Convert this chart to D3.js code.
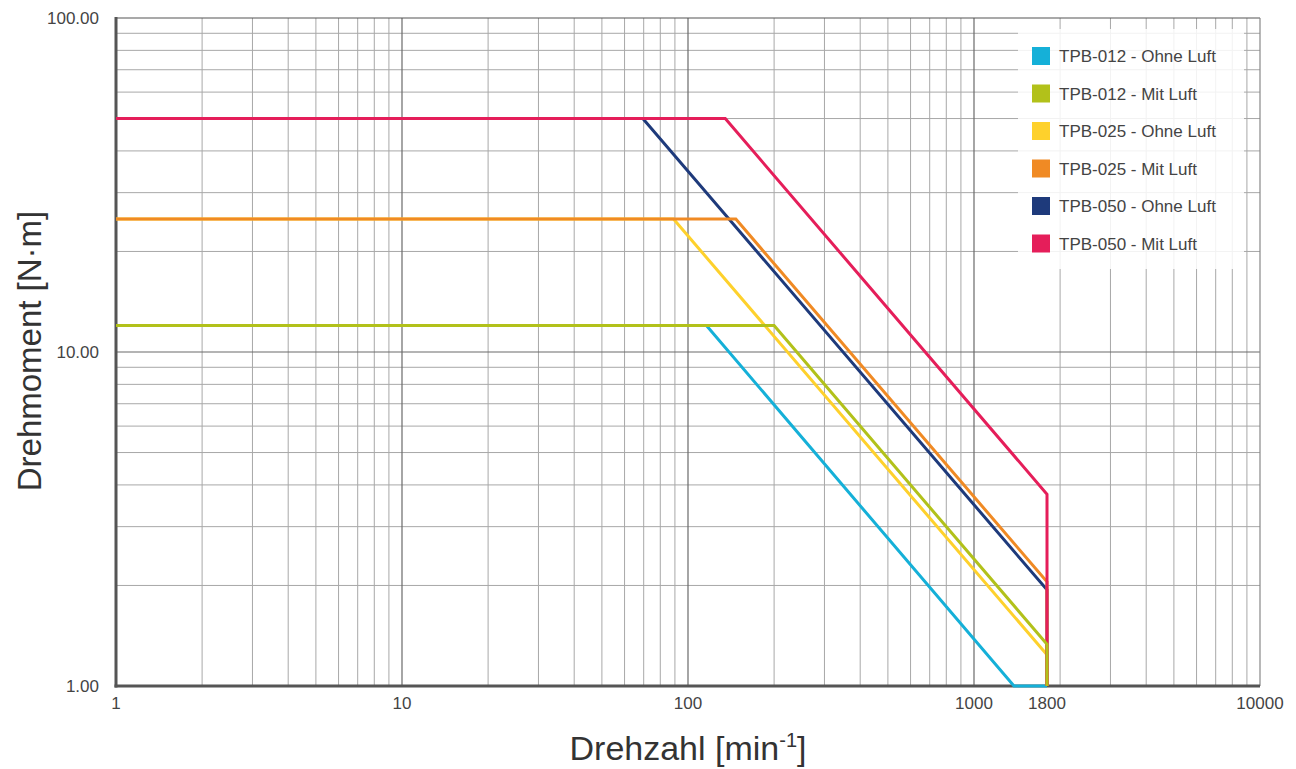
<!DOCTYPE html>
<html>
<head>
<meta charset="utf-8">
<script src="https://cdn.jsdelivr.net/npm/d3@7"></script>
<style>
  body { margin: 0; background: #fff; }
  text { font-family: "Liberation Sans", Arial, sans-serif; }
</style>
</head>
<body>
<div id="chart"></div>
<script>
// data
var series_names = ['TPB-012 - Ohne Luft', 'TPB-012 - Mit Luft', 'TPB-025 - Ohne Luft',
    'TPB-025 - Mit Luft', 'TPB-050 - Ohne Luft', 'TPB-050 - Mit Luft']
var series_colors = ['#15b0d8', '#b2c11a', '#fed12c', '#f08a24', '#1e3a7b', '#e51e5a']
// speed [min-1] and torque [N·m] points per series
var speed_012_ohne = [1, 116, 1380, 1800]
var torque_012_ohne = [12, 12, 1, 1]
var speed_012_mit = [1, 200, 1800, 1800]
var torque_012_mit = [12, 12, 1.333, 1]
var speed_025_ohne = [1, 89, 1800, 1800]
var torque_025_ohne = [25, 25, 1.24, 1]
var speed_025_mit = [1, 147, 1800, 1800]
var torque_025_mit = [25, 25, 2.05, 1]
var speed_050_ohne = [1, 69.5, 1800, 1800]
var torque_050_ohne = [50, 50, 1.94, 1]
var speed_050_mit = [1, 135, 1800, 1800]
var torque_050_mit = [50, 50, 3.75, 1]

var x_ticks = [1, 10, 100, 1000, 1800, 10000]
var x_tick_labels = ['1', '10', '100', '1000', '1800', '10000']
var y_ticks = [1, 10, 100]
var y_tick_labels = ['1.00', '10.00', '100.00']

var all_speeds = [speed_012_ohne, speed_012_mit, speed_025_ohne, speed_025_mit, speed_050_ohne, speed_050_mit]
var all_torques = [torque_012_ohne, torque_012_mit, torque_025_ohne, torque_025_mit, torque_050_ohne, torque_050_mit]
// draw order: "Mit Luft" lines over "Ohne Luft", olive on top at 1800
var draw_order = [0, 2, 4, 3, 5, 1]

var width = 1296, height = 769
var p_left = 116, p_right = 1260, p_top = 18, p_bottom = 686

var svg = d3.select('#chart')
    .append('svg')
    .attr('width', width)
    .attr('height', height)

var x = d3.scaleLog().domain([1, 10000]).range([p_left, p_right])
var y = d3.scaleLog().domain([1, 100]).range([p_bottom, p_top])

// grid lines
var minor_x = [], minor_y = []
for (var d = 1; d < 10000; d *= 10)
    for (var k = 2; k <= 9; k++) minor_x.push(d * k)
for (var d = 1; d < 100; d *= 10)
    for (var k = 2; k <= 9; k++) minor_y.push(d * k)

var grid = svg.append('g')
grid.selectAll('.gx').data(minor_x).enter().append('line')
    .attr('x1', d => x(d)).attr('x2', d => x(d))
    .attr('y1', p_top).attr('y2', p_bottom)
    .attr('stroke', '#a8a8a8').attr('stroke-width', 1)
grid.selectAll('.gy').data(minor_y).enter().append('line')
    .attr('y1', d => y(d)).attr('y2', d => y(d))
    .attr('x1', p_left).attr('x2', p_right)
    .attr('stroke', '#a8a8a8').attr('stroke-width', 1)
grid.selectAll('.mx').data([10, 100, 1000]).enter().append('line')
    .attr('x1', d => x(d)).attr('x2', d => x(d))
    .attr('y1', p_top).attr('y2', p_bottom)
    .attr('stroke', '#6a6a6a').attr('stroke-width', 1.2)
grid.selectAll('.my').data([10]).enter().append('line')
    .attr('y1', d => y(d)).attr('y2', d => y(d))
    .attr('x1', p_left).attr('x2', p_right)
    .attr('stroke', '#6a6a6a').attr('stroke-width', 1.2)
// frame
grid.append('line').attr('x1', p_left).attr('x2', p_right).attr('y1', p_top).attr('y2', p_top)
    .attr('stroke', '#555').attr('stroke-width', 1.2)
grid.append('line').attr('x1', p_right).attr('x2', p_right).attr('y1', p_top).attr('y2', p_bottom)
    .attr('stroke', '#888').attr('stroke-width', 1.2)

// axes lines (under the series, cyan runs along the bottom)
svg.append('line').attr('x1', p_left).attr('x2', p_left).attr('y1', p_top - 1).attr('y2', p_bottom + 1.5)
    .attr('stroke', '#555').attr('stroke-width', 3)
svg.append('line').attr('x1', p_left - 1.5).attr('x2', p_right).attr('y1', p_bottom).attr('y2', p_bottom)
    .attr('stroke', '#555').attr('stroke-width', 3)

// series lines
var line = d3.line().x(d => x(d[0])).y(d => y(d[1]))
draw_order.forEach(i => {
    var pts = all_speeds[i].map((s, j) => [s, all_torques[i][j]])
    svg.append('path')
        .attr('d', line(pts))
        .attr('fill', 'none')
        .attr('stroke', series_colors[i])
        .attr('stroke-width', 3)
        .attr('stroke-linejoin', 'miter')
})

// tick labels
svg.selectAll('.xl').data(x_ticks).enter().append('text')
    .attr('x', d => x(d)).attr('y', 709)
    .attr('text-anchor', 'middle')
    .attr('font-size', 17).attr('fill', '#444')
    .text((d, i) => x_tick_labels[i])
svg.selectAll('.yl').data(y_ticks).enter().append('text')
    .attr('x', 99).attr('y', d => y(d) + 6)
    .attr('text-anchor', 'end')
    .attr('font-size', 17).attr('fill', '#444')
    .text((d, i) => y_tick_labels[i])

// axis titles
svg.append('text')
    .attr('transform', 'translate(41,' + 351 + ') rotate(-90)')
    .attr('text-anchor', 'middle')
    .attr('font-size', 33).attr('fill', '#333')
    .text('Drehmoment [N·m]')
var xt = svg.append('text')
    .attr('x', 688).attr('y', 760)
    .attr('text-anchor', 'middle')
    .attr('font-size', 34).attr('fill', '#333')
xt.append('tspan').text('Drehzahl [min')
xt.append('tspan').attr('font-size', 20).attr('dy', -13).text('-1')
xt.append('tspan').attr('dy', 13).text(']')

// legend
var lg = svg.append('g')
lg.append('rect')
    .attr('x', 1018).attr('y', 29).attr('width', 226).attr('height', 240)
    .attr('fill', '#fff').attr('fill-opacity', 0.85)
var items = lg.selectAll('.item').data(series_names).enter().append('g')
    .attr('transform', (d, i) => 'translate(1032,' + (47 + i * 37.5) + ')')
items.append('rect')
    .attr('width', 18).attr('height', 18)
    .attr('fill', (d, i) => series_colors[i])
items.append('text')
    .attr('x', 27).attr('y', 15)
    .attr('font-size', 17).attr('fill', '#444')
    .text(d => d)
</script>
</body>
</html>
